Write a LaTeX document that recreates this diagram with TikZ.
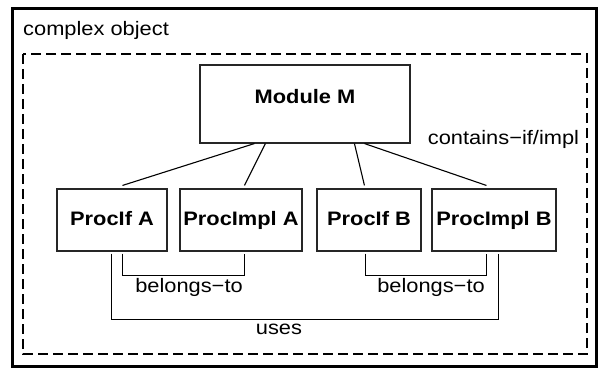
\documentclass[tikz,border=0pt]{standalone}
\usepackage{fontspec}
\setmainfont{Liberation Sans}[FakeStretch=1.12]
\usetikzlibrary{calc}
\begin{document}
\begin{tikzpicture}[x=1pt,y=-1pt,
  every node/.style={font=\fontsize{19.5}{23}\selectfont, inner sep=0pt},
  box/.style={draw=black!85, line width=1.1pt, minimum height=62pt,
    font=\fontsize{19.5}{23}\selectfont\bfseries, text height=14pt, text depth=4pt},
  wire/.style={draw=black, line width=1.1pt},
  tag/.style={anchor=base}]
\useasboundingbox (0,0) rectangle (598,369);

% outer frame and its caption
\draw[line width=3pt] (12.5,8.5) rectangle (596.5,366.5);
\node[anchor=base west] (title) at (23,36) {complex object};

% dashed inner boundary
\draw[line width=1.2pt, dash pattern=on 10pt off 5pt] (23,54) rectangle (587,354);

% components
\node[box, minimum width=210pt, minimum height=78pt, text height=14pt, text depth=14pt] (mm) at (305,104) {Module M};
\node[box, minimum width=110pt] (pia) at (112,220) {ProcIf A};
\node[box, minimum width=122pt] (pima) at (241,220) {ProcImpl A};
\node[box, minimum width=104pt] (pib) at (369,220) {ProcIf B};
\node[box, minimum width=124pt] (pimb) at (494,220) {ProcImpl B};

% containment links
\draw[wire] ($(mm.south west)+(55,0)$) -- ($(pia.north west)+(66,-3)$);
\draw[wire] ($(mm.south west)+(66,0)$) -- ($(pima.north west)+(65,-3)$);
\draw[wire] ($(mm.south west)+(155,0)$) -- ($(pib.north west)+(48,-3)$);
\draw[wire] ($(mm.south west)+(165,0)$) -- ($(pimb.north west)+(55,-3)$);
\node[tag] (contains) at (503.5,145) {contains−if/impl};

% belongs-to brackets
\draw[wire] ($(pia.south west)+(66,2)$) -- ++(0,22) -| ($(pima.south west)+(65,2)$);
\node[tag] (bta) at (189,292) {belongs−to};
\draw[wire] ($(pib.south west)+(49,2)$) -- ++(0,22) -| ($(pimb.south west)+(55,2)$);
\node[tag] (btb) at (431,292) {belongs−to};

% uses bracket
\draw[wire] ($(pia.south west)+(55,2)$) -- ++(0,66) -| ($(pimb.south west)+(67,2)$);
\node[tag] (uses) at (279,334) {uses};
\end{tikzpicture}
\end{document}
